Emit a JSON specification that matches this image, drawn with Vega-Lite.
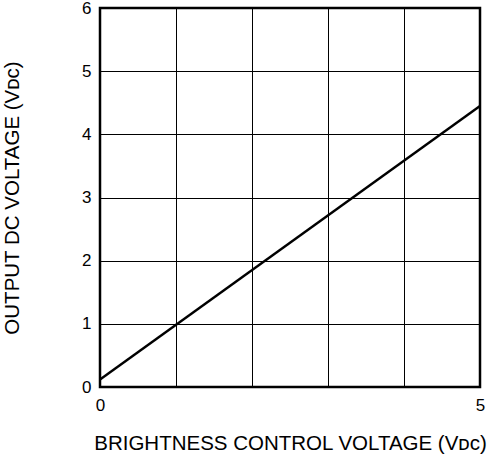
{
  "$schema": "https://vega.github.io/schema/vega-lite/v6.json",
  "width": 380,
  "height": 379,
  "autosize": {"type": "none"},
  "padding": {"left": 100, "top": 8, "right": 21, "bottom": 74},
  "background": "white",
  "config": {
    "view": {"stroke": "black", "strokeWidth": 2.5},
    "font": "Liberation Sans",
    "axis": {
      "labelFont": "Liberation Sans",
      "titleFont": "Liberation Sans",
      "titleFontWeight": "normal",
      "labelColor": "black",
      "titleColor": "black",
      "gridColor": "black",
      "gridOpacity": 1,
      "gridWidth": 1,
      "domain": false,
      "ticks": false
    }
  },
  "data": {"values": [
    {"x": 0, "y": 0.12},
    {"x": 5, "y": 4.45}
  ]},
  "mark": {"type": "line", "color": "black", "strokeWidth": 2.5, "clip": true},
  "encoding": {
    "x": {
      "field": "x", "type": "quantitative",
      "scale": {"domain": [0, 5], "nice": false, "zero": false},
      "axis": {
        "values": [0, 1, 2, 3, 4, 5],
        "labelExpr": "datum.value == 0 || datum.value == 5 ? datum.label : ''",
        "labelFontSize": 17,
        "titleFontSize": 20.5,
        "labelPadding": 10,
        "labelFlush": false,
        "title": "BRIGHTNESS CONTROL VOLTAGE (Vᴅᴄ)",
        "titlePadding": 20
      }
    },
    "y": {
      "field": "y", "type": "quantitative",
      "scale": {"domain": [0, 6], "nice": false},
      "axis": {
        "values": [0, 1, 2, 3, 4, 5, 6],
        "labelFontSize": 17,
        "titleFontSize": 20.5,
        "labelPadding": 9,
        "labelFlush": false,
        "title": "OUTPUT DC VOLTAGE (Vᴅᴄ)",
        "titlePadding": 59
      }
    }
  }
}
